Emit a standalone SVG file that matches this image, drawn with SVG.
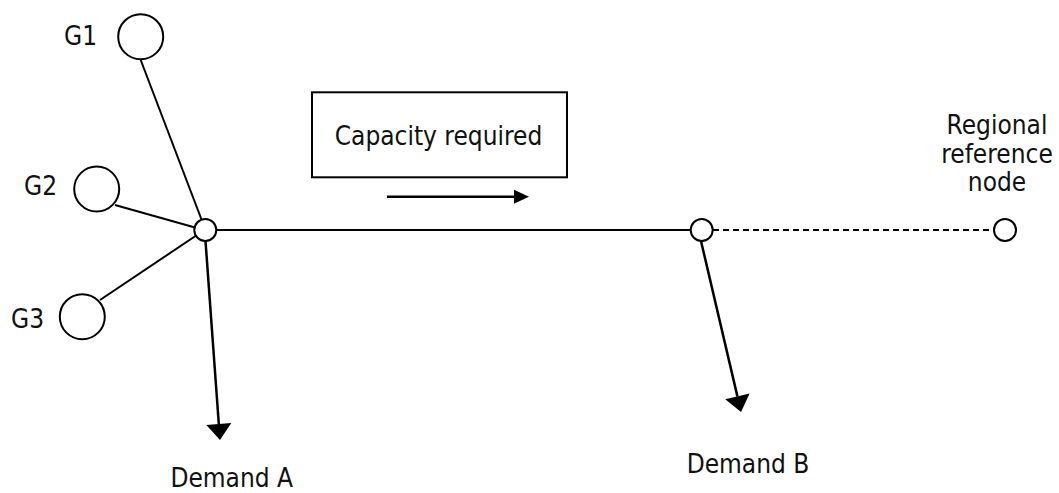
<svg xmlns="http://www.w3.org/2000/svg" width="1059" height="493" viewBox="0 0 1059 493">
<style>
  text { font-family: "DejaVu Sans Condensed", "DejaVu Sans", sans-serif; font-stretch: condensed; font-size: 26px; fill: #111; }
  .node { fill: #fff; stroke: #000; stroke-width: 2; }
  .link { stroke: #000; stroke-width: 2; fill: none; }
  .flow { stroke: #000; stroke-width: 2.5; fill: none; }
  .dash { stroke: #000; stroke-width: 2; stroke-dasharray: 6 4; fill: none; }
</style>
<defs>
  <marker id="bigHead" markerUnits="userSpaceOnUse" markerWidth="17" markerHeight="26" refX="0" refY="12.5" orient="auto" overflow="visible">
    <path d="M0,0 L16,12.5 L0,25 Z" fill="#000"/>
  </marker>
  <marker id="smallHead" markerUnits="userSpaceOnUse" markerWidth="16" markerHeight="15" refX="0" refY="7" orient="auto" overflow="visible">
    <path d="M0,0 L15,7 L0,14 Z" fill="#000"/>
  </marker>
</defs>

<g id="connectors">
  <line class="link" x1="140.7" y1="60" x2="201.5" y2="219.5"/>
  <line class="link" x1="115" y1="205" x2="195" y2="227.5"/>
  <line class="link" x1="100" y1="300" x2="195.5" y2="236"/>
  <line class="link" x1="216.5" y1="230" x2="690.5" y2="230"/>
  <line class="dash" x1="713" y1="230" x2="993.5" y2="230"/>
  <line class="flow" x1="205.5" y1="241" x2="218.8" y2="424" marker-end="url(#bigHead)"/>
  <line class="flow" x1="701" y1="241" x2="737.4" y2="396.4" marker-end="url(#bigHead)"/>
  <line class="flow" x1="387" y1="196.7" x2="514" y2="196.7" marker-end="url(#smallHead)"/>
</g>

<g id="G1">
  <circle class="node" cx="140.7" cy="36.7" r="22.5"/>
  <text x="64" y="45">G1</text>
</g>
<g id="G2">
  <circle class="node" cx="96.7" cy="189" r="22.5"/>
  <text x="24" y="195">G2</text>
</g>
<g id="G3">
  <circle class="node" cx="82.3" cy="316.7" r="22.5"/>
  <text x="11" y="328">G3</text>
</g>
<g id="nodeA">
  <circle class="node" cx="205.3" cy="230" r="11"/>
</g>
<g id="nodeB">
  <circle class="node" cx="701.7" cy="230" r="11"/>
</g>
<g id="regional">
  <circle class="node" cx="1005" cy="230" r="11"/>
  <text x="997" y="134" text-anchor="middle" font-size="25">Regional</text>
  <text x="997" y="162.5" text-anchor="middle" font-size="25">reference</text>
  <text x="997" y="191" text-anchor="middle" font-size="25">node</text>
</g>
<g id="capacity">
  <rect x="312" y="92.3" width="255" height="85" fill="#fff" stroke="#000" stroke-width="2"/>
  <text x="438.5" y="145" text-anchor="middle">Capacity required</text>
</g>
<g id="demandA">
  <text x="231.7" y="486.5" text-anchor="middle">Demand A</text>
</g>
<g id="demandB">
  <text x="748" y="473" text-anchor="middle">Demand B</text>
</g>
</svg>
